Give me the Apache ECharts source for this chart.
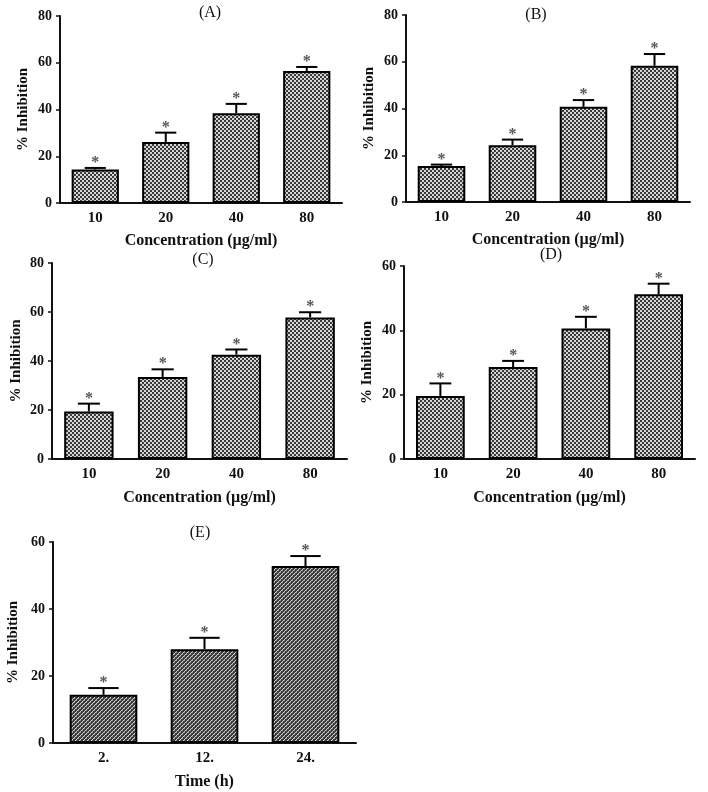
<!DOCTYPE html>
<html><head><meta charset="utf-8">
<script src="https://cdn.jsdelivr.net/npm/echarts@6/dist/echarts.min.js"></script>
<style>html,body{margin:0;padding:0;background:#fff}#c{width:708px;height:792px}</style>
</head><body><div id="c"></div>
<script>
// ---- data ----
const concCategories = ['10', '20', '40', '80'];
const timeCategories = ['2.', '12.', '24.'];
const meanA = [14.3, 26.1, 38.4, 56.5];
const upperA = [15.0, 30.1, 42.4, 58.2];
const meanB = [15.4, 24.3, 40.7, 58.3];
const upperB = [16.0, 26.7, 43.6, 63.3];
const meanC = [19.4, 33.5, 42.6, 57.8];
const upperC = [22.6, 36.6, 44.7, 59.9];
const meanD = [19.6, 28.6, 40.6, 51.2];
const upperD = [23.5, 30.5, 44.2, 54.5];
const meanE = [14.4, 28.0, 52.8];
const upperE = [16.4, 31.4, 55.8];
const panelTitles = ['(A)', '(B)', '(C)', '(D)', '(E)'];
const yMax = [80, 80, 80, 60, 60];
const xNames = ['Concentration (µg/ml)', 'Concentration (µg/ml)', 'Concentration (µg/ml)', 'Concentration (µg/ml)', 'Time (h)'];
const yName = '% Inhibition';

// ---- patterns ----
function checkPattern() {
  const c = document.createElement('canvas'); c.width = 4; c.height = 4;
  const g = c.getContext('2d');
  g.fillStyle = '#d4d4d4'; g.fillRect(0, 0, 4, 4);
  g.fillStyle = '#3a3a3a'; g.fillRect(0, 0, 2, 2); g.fillRect(2, 2, 2, 2);
  return c;
}
function diagPattern() {
  const c = document.createElement('canvas'); c.width = 4; c.height = 4;
  const g = c.getContext('2d');
  g.fillStyle = '#3a3a3a'; g.fillRect(0, 0, 4, 4);
  g.fillStyle = '#d0d0d0';
  g.fillRect(0, 3, 1, 1); g.fillRect(1, 2, 1, 1); g.fillRect(2, 1, 1, 1); g.fillRect(3, 0, 1, 1);
  g.fillStyle = '#8a8a8a';
  g.fillRect(0, 0, 1, 1); g.fillRect(2, 2, 1, 1);
  return c;
}
const pat1 = { image: checkPattern(), repeat: 'repeat' };
const pat2 = { image: diagPattern(), repeat: 'repeat' };

const serif = '"Liberation Serif", "Times New Roman", serif';
const grids = [
  { left: 60, top: 16, width: 282, height: 187 },
  { left: 406, top: 15, width: 284, height: 187 },
  { left: 52, top: 263, width: 295, height: 196 },
  { left: 404, top: 266, width: 291, height: 193 },
  { left: 53, top: 542, width: 303, height: 201 }
];
const titlePos = [[210, 5], [536, 7], [203, 252], [551, 247], [200, 525]];
const yNameGap = [29, 29, 28, 29, 32];
const xNameGap = [30, 30, 31, 31, 31];
const means = [meanA, meanB, meanC, meanD, meanE];
const uppers = [upperA, upperB, upperC, upperD, upperE];

const xAxes = [], yAxes = [], series = [], titles = [];
for (let i = 0; i < 5; i++) {
  const cats = i === 4 ? timeCategories : concCategories;
  titles.push({ text: panelTitles[i], left: titlePos[i][0], top: titlePos[i][1], textAlign: 'center', padding: 0,
    textStyle: { fontFamily: serif, fontSize: 16, fontWeight: 'normal', color: '#111' } });
  xAxes.push({ type: 'category', gridIndex: i, data: cats,
    axisLine: { lineStyle: { color: '#111', width: 2 } },
    axisTick: { alignWithLabel: true, length: 4, lineStyle: { color: '#111', width: 1.5 } },
    axisLabel: { fontFamily: serif, fontWeight: 'bold', fontSize: 15, color: '#111', margin: 8 },
    name: xNames[i], nameLocation: 'middle', nameGap: xNameGap[i],
    nameTextStyle: { fontFamily: serif, fontWeight: 'bold', fontSize: 16, color: '#111' } });
  yAxes.push({ type: 'value', gridIndex: i, min: 0, max: yMax[i], interval: 20,
    splitLine: { show: false },
    axisLine: { show: true, lineStyle: { color: '#111', width: 2 } },
    axisTick: { show: true, length: 4, lineStyle: { color: '#111', width: 1.5 } },
    axisLabel: { fontFamily: serif, fontWeight: 'bold', fontSize: 14, color: '#111', margin: 8 },
    name: yName, nameLocation: 'middle', nameGap: yNameGap[i], nameRotate: 90,
    nameTextStyle: { fontFamily: serif, fontWeight: 'bold', fontSize: 15, color: '#111' } });
  series.push({ type: 'bar', xAxisIndex: i, yAxisIndex: i, data: means[i],
    barCategoryGap: '33%', silent: true,
    itemStyle: { color: i === 4 ? pat2 : pat1, borderColor: '#000', borderWidth: 2 } });
  series.push({ type: 'custom', xAxisIndex: i, yAxisIndex: i, silent: true,
    data: means[i].map((m, k) => [k, m, uppers[i][k]]),
    encode: { x: 0, y: [1, 2] },
    renderItem: function (params, api) {
      const k = api.value(0);
      const p0 = api.coord([k, api.value(1)]);
      const p1 = api.coord([k, api.value(2)]);
      const half = api.size([1, 0])[0] * 0.15;
      return { type: 'group', children: [
        { type: 'line', shape: { x1: p0[0], y1: p0[1], x2: p1[0], y2: p1[1] }, style: { stroke: '#000', lineWidth: 2 } },
        { type: 'line', shape: { x1: p1[0] - half, y1: p1[1], x2: p1[0] + half, y2: p1[1] }, style: { stroke: '#000', lineWidth: 2 } },
        { type: 'text', x: p1[0], y: p1[1] - 13, style: { text: '*', textAlign: 'center', textVerticalAlign: 'top',
          font: 'bold 16px "Liberation Serif", serif', fill: '#555' } }
      ] };
    } });
}

const chart = echarts.init(document.getElementById('c'), null, { renderer: 'canvas' });
chart.setOption({
  animation: false,
  backgroundColor: '#fff',
  title: titles,
  grid: grids.map(g => Object.assign({ containLabel: false }, g)),
  xAxis: xAxes,
  yAxis: yAxes,
  series: series
});
</script></body></html>
